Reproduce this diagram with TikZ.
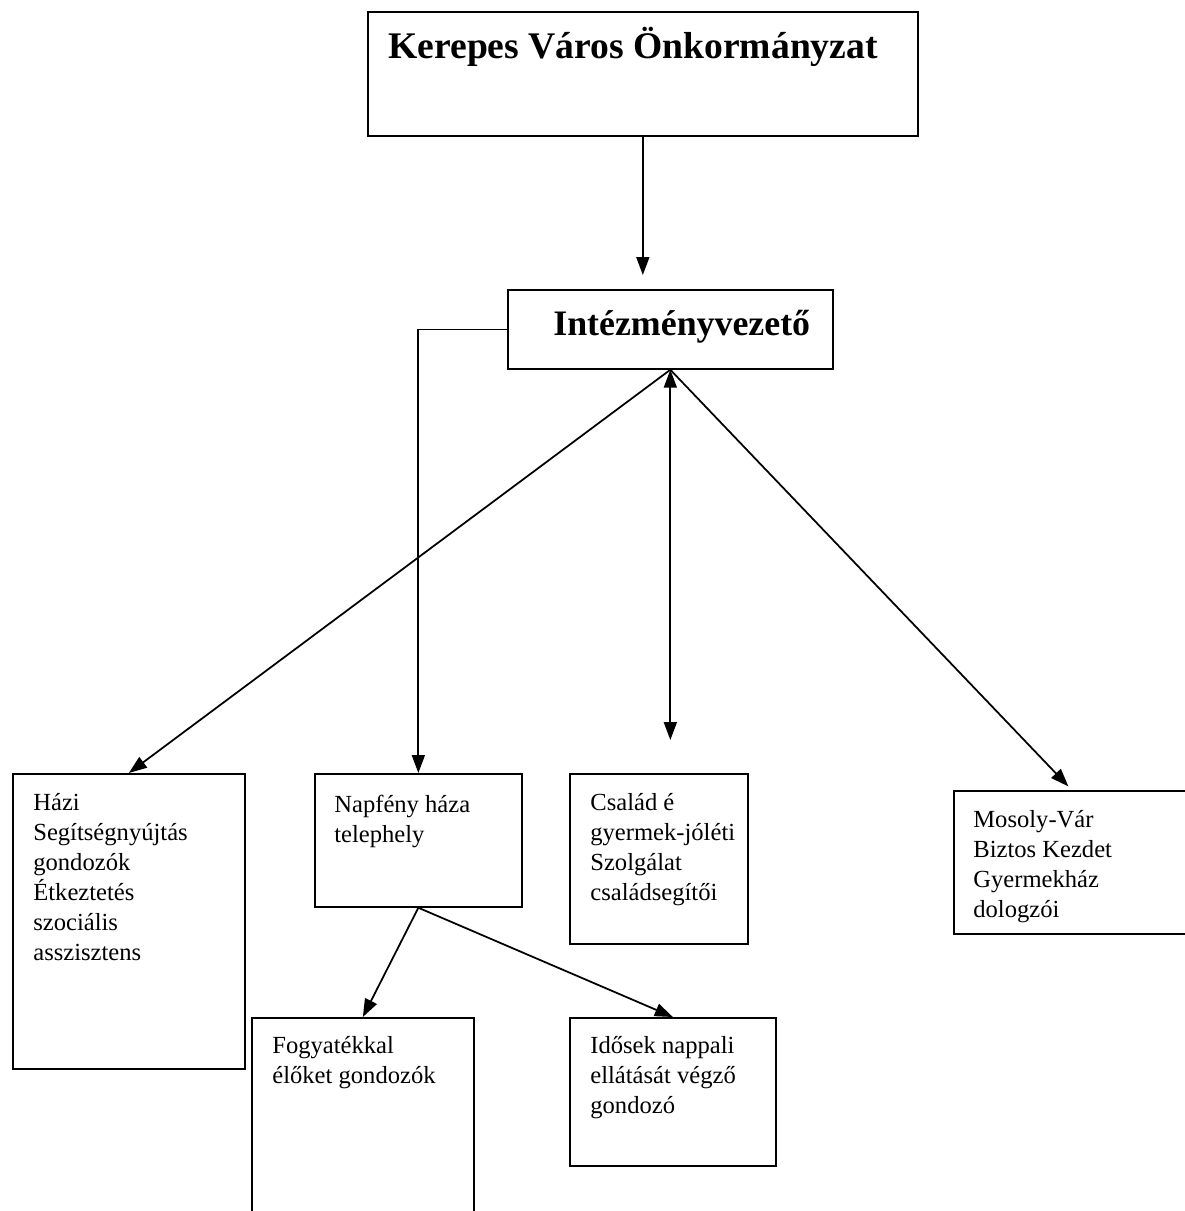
\documentclass[tikz,border=0pt]{standalone}
\usepackage{fontspec}
\setmainfont{Liberation Serif}
\usetikzlibrary{positioning, arrows.meta}

% lines of a box, baseline at the first line
\newcommand{\boxlines}[1]{\begin{tabular}[t]{@{}l@{}}#1\end{tabular}}

\begin{document}
\begin{tikzpicture}[x=0.02cm, y=-0.02cm, >={Triangle[length=0.36cm, width=0.26cm]},
    box/.style={draw, line width=1pt, anchor=north west, inner sep=0pt},
    txt/.style={anchor=base west, inner sep=0pt, font=\fontsize{14}{17.1}\selectfont},
    head/.style={anchor=base west, inner sep=0pt, font=\bfseries\fontsize{21.4}{25}\selectfont},
    conn/.style={line width=1pt}]
    % Frame of the page
    \useasboundingbox (0,0) rectangle (1185,1211);
    \clip (0,0) rectangle (1185,1211);

    % Boxes
    \node[box, minimum width=11cm, minimum height=2.48cm] (kerepes) at (367,11) {};
    \node[box, minimum width=6.5cm, minimum height=1.58cm] (intez) at (507,289) {};
    \node[box, minimum width=4.64cm, minimum height=5.9cm] (hazi) at (12,773) {};
    \node[box, minimum width=4.14cm, minimum height=2.66cm] (napfeny) at (314,773) {};
    \node[box, minimum width=3.56cm, minimum height=3.4cm] (csalad) at (569,773) {};
    \node[box, minimum width=4.72cm, minimum height=2.86cm] (mosoly) at (953,790) {};
    \node[box, minimum width=4.44cm, minimum height=4.8cm] (fogy) at (251,1017) {};
    \node[box, minimum width=4.12cm, minimum height=2.96cm] (idosek) at (569,1017) {};

    % Texts at the top of the boxes
    \node[head] (kerepes-t) at ([shift={(21,47)}]kerepes.north west) {Kerepes Város Önkormányzat};
    \node[head, font=\bfseries\fontsize{20.4}{24}\selectfont] (intez-t) at ([shift={(46,46)}]intez.north west) {Intézményvezető};
    \node[txt] (hazi-t) at ([shift={(21,37)}]hazi.north west) {\boxlines{Házi\\Segítségnyújtás\\gondozók\\Étkeztetés\\szociális\\asszisztens}};
    \node[txt] (napfeny-t) at ([shift={(20,39)}]napfeny.north west) {\boxlines{Napfény háza\\telephely}};
    \node[txt] (csalad-t) at ([shift={(21,37)}]csalad.north west) {\boxlines{Család é\\gyermek-jóléti\\Szolgálat\\családsegítői}};
    \node[txt] (mosoly-t) at ([shift={(20,37)}]mosoly.north west) {\boxlines{Mosoly-Vár\\Biztos Kezdet\\Gyermekház\\dologzói}};
    \node[txt] (fogy-t) at ([shift={(21,36)}]fogy.north west) {\boxlines{Fogyatékkal\\élőket gondozók}};
    \node[txt] (idosek-t) at ([shift={(21,36)}]idosek.north west) {\boxlines{Idősek nappali\\ellátását végző\\gondozó}};

    % Connectors
    \draw[conn, ->, shorten >=0.28cm] (kerepes.south) -- (kerepes.south |- intez.north);
    \draw[conn, ->] (intez.west) -| (napfeny.north);
    \draw[conn, ->] (intez.south) -- (hazi.north);
    \draw[conn, <->, shorten >=0.66cm] (intez.south) -- (intez.south |- csalad.north);
    \draw[conn, ->, shorten >=0.1cm] (intez.south) -- (mosoly.north);
    \draw[conn, ->] (napfeny.south) -- (fogy.north);
    \draw[conn, ->] (napfeny.south) -- (idosek.north);
\end{tikzpicture}
\end{document}
